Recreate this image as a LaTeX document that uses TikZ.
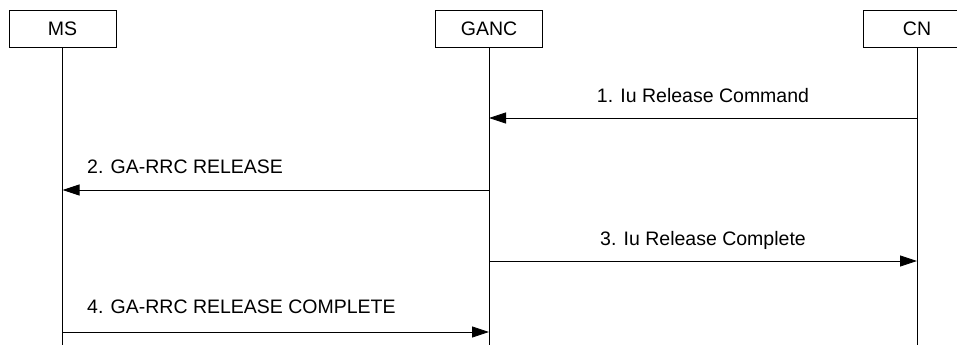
\documentclass[tikz,border=0pt]{standalone}
\usepackage{fontspec}
\setmainfont{Liberation Sans}
\usetikzlibrary{arrows.meta}
\begin{document}
\begin{tikzpicture}[x=1pt,y=-1pt,every node/.style={font=\fontsize{19.5}{23}\selectfont},
    entity/.style={draw,line width=0.8pt,minimum width=107pt,minimum height=37pt,inner sep=0pt},
    lifeline/.style={line width=1pt},
    msg/.style={line width=0.8pt,-{Triangle[length=17pt,width=11pt]}}]
    \useasboundingbox (0,0) rectangle (957,345);
    \node[entity] (ms) at (62.5,28.5) {MS};
    \node[entity] (ganc) at (489,28.5) {GANC};
    \node[entity] (cn) at (917,28.5) {CN};
    \coordinate (ms-end) at (62.5,345);
    \coordinate (ganc-end) at (489,345);
    \coordinate (cn-end) at (917,345);
    \draw[lifeline] (ms.south) -- (ms-end);
    \draw[lifeline] (ganc.south) -- (ganc-end);
    \draw[lifeline] (cn.south) -- (cn-end);
    % message ends on the lifelines
    \coordinate (cn-1) at (917,118);
    \coordinate (ganc-1) at (489,118);
    \coordinate (ganc-2) at (489,190);
    \coordinate (ms-2) at (62.5,190);
    \coordinate (ganc-3) at (489,261);
    \coordinate (cn-3) at (917,261);
    \coordinate (ms-4) at (62.5,332);
    \coordinate (ganc-4) at (489,332);
    \draw[msg] (cn-1) -- (ganc-1);
    \draw[msg] (ganc-2) -- (ms-2);
    \draw[msg] (ganc-3) -- (cn-3);
    \draw[msg] (ms-4) -- (ganc-4);
    \node[anchor=base] (msg-1) at (703,102) {1. Iu Release Command};
    \node[anchor=base west,inner sep=0pt] (msg-2) at (87,173) {2. GA-RRC RELEASE};
    \node[anchor=base] (msg-3) at (703,245) {3. Iu Release Complete};
    \node[anchor=base west,inner sep=0pt] (msg-4) at (87,313) {4. GA-RRC RELEASE COMPLETE};
\end{tikzpicture}
\end{document}
